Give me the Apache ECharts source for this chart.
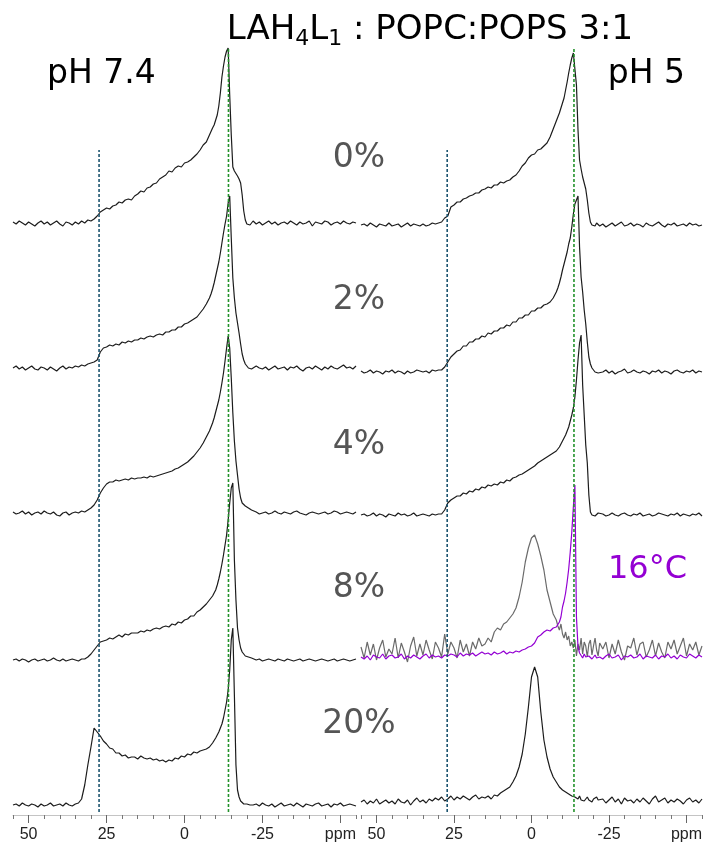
<!DOCTYPE html>
<html><head><meta charset="utf-8">
<script src="https://cdn.jsdelivr.net/npm/echarts@6/dist/echarts.min.js"></script>
<style>html,body{margin:0;padding:0;background:#fff}#c{width:703px;height:847px}</style>
</head><body><div id="c"></div>
<script>
// chemical shift grid (ppm)
const ppm = [55,54,53,52,51,50,49,48,47,46,45,44,43,42,41,40,39,38,37,36,
35,34,33,32,31,30,29,28,27,26,25,24,23,22,21,20,19,18,17,16,
15,14,13,12,11,10,9,8,7,6,5,4,3,2,1,0,-1,-2,-3,-4,-5,-6,-7,-8,
-8.5,-9,-9.5,-10,-10.5,-11,-11.5,-12,-12.5,-13,-13.5,-14,-14.5,-15,-15.5,-16,-16.5,-17,-17.5,-18,
-18.5,-19,-19.5,-20,-20.5,-21,-21.5,-22,
-23,-24,-25,-26,-27,-28,-29,-30,-31,-32,-33,-34,-35,-36,-37,-38,-39,-40,-41,-42,
-43,-44,-45,-46,-47,-48,-49,-50,-51,-52,-53,-54,-55];

// pH 7.4 spectra (intensity)
const L0 = [1,-1,2,0,-2,1,-1,-3,0,2, -1,1,-2,0,2,-1,-3,1,0,-2,
 1,-1,2,0,3,2,4,7,11,13, 15,14,17,18,21,20,23,24,23,27,
 29,32,31,35,36,39,40,44,46,48, 52,51,55,57,56,60,61,63,66,69, 73,78,81,88,
 90,95,98,103,108,117,130,146,157,166, 172,175,128,88,56,52,50,47,44,40, 28,12,3,-1,1,-2,0,2,
 -1,1,-2,0,2,-1,1,-2,0,1, -1,2,0,-2,1,-1,0,2,-3,1, 0,-1,2,1,-2,0,1,-1,2,0, -1,1,0];
const L2 = [0,2,-1,1,-2,0,2,-1,-2,1, 0,-2,1,-1,-3,0,2,-1,1,0,
 2,1,3,2,4,5,6,8,16,20, 21,23,22,24,23,26,25,27,26,28,
 28,30,29,31,32,31,33,34,33,36, 36,38,38,41,41,44,45,47,49,51, 55,59,64,70,
 74,79,85,92,99,106,115,125,135,144, 152,165,172,130,90,70,55,45,35,24, 14,8,4,2,0,1,-1,1,
 2,0,-1,1,-2,0,2,-1,0,1, -2,1,0,2,-1,-3,0,1,-1,2, 0,-2,1,-1,2,0,-1,1,3,0, 1,-1,2];
const L4 = [1,-1,0,2,-1,1,-2,0,1,-1, 2,0,-1,1,-2,-3,0,1,-2,0,
 1,0,2,1,3,5,8,13,20,25, 29,31,31,33,32,33,34,33,35,34,
 35,35,36,35,37,36,37,38,39,40, 41,42,44,45,47,49,51,54,57,61, 65,70,76,82,
 86,90,95,101,107,113,121,130,140,152, 165,177,165,135,100,72,52,38,24,15, 10,8,7,6,5,4,3,2,
 1,-1,0,1,-1,0,2,0,-1,1, 0,-1,1,2,0,-1,-2,0,1,0, -1,0,1,-1,0,2,1,-1,0,1, 0,-1,1];
const L8 = [0,1,-1,1,0,-2,0,1,-1,0, 1,-1,0,2,0,-1,1,-1,0,1,
 0,-1,1,1,3,6,10,14,18,19, 20,22,21,23,25,23,26,25,27,27,
 27,29,28,30,29,31,32,31,33,34, 33,36,35,38,37,40,41,44,44,48, 50,53,56,60,
 62,64,66,70,75,81,88,96,105,115, 125,140,157,172,177,100,60,32,20,12, 8,6,4,3,3,2,2,1,
 0,1,-1,0,1,0,-1,1,0,-1, 1,0,-1,0,1,-1,0,1,0,-1, 0,1,0,-1,0,1,-1,0,1,0, -1,0,1];
const L20 = [0,1,-1,2,0,-1,1,0,-2,1, -1,0,2,-1,0,1,-1,2,0,-1,
 1,2,6,20,40,58,77,73,69,64, 61,57,56,52,52,49,50,47,48,48,
 46,49,47,46,47,45,46,44,45,43, 45,44,47,46,49,48,51,50,53,52, 54,55,56,58,
 60,62,64,67,70,73,77,81,87,95, 103,115,135,165,177,110,40,15,8,4, 2,1,0,1,-1,0,1,0,
 1,-1,2,0,-1,1,-2,0,2,-1, 0,1,-1,2,0,-2,1,0,-1,1, 2,-1,0,1,-2,1,0,2,-1,0, 1,0,-1];

// pH 5 spectra (intensity)
const R0 = [0,1,-1,2,0,-2,1,0,-1,2, -1,0,1,-2,0,2,-1,1,0,-1,
 1,-1,0,2,1,2,3,7,9,18, 20,23,23,26,27,29,30,32,32,35,
 36,38,37,40,40,43,42,44,45,48, 50,54,59,62,67,70,71,75,76,79, 82,88,96,104,
 108,112,117,122,127,135,143,152,160,167, 172,173,140,95,65,56,48,42,36,25, 12,3,0,1,-1,2,0,-1,
 1,-2,0,2,-1,1,3,-1,0,2, -1,1,0,-2,2,0,-1,1,3,0, -2,1,0,2,-1,0,1,-1,2,0, 1,-1,0];
const R2 = [1,-1,0,2,-1,1,0,-2,1,0, 2,-1,1,0,-2,1,-1,0,2,1,
 0,1,-1,2,1,2,2,5,10,15, 18,21,22,26,26,30,30,33,33,36,
 35,39,38,41,41,44,44,47,46,50, 50,54,54,57,57,61,61,64,64,67, 68,70,74,80,
 84,89,95,102,108,114,120,128,134,145, 158,168,172,176,125,95,80,62,48,30, 15,8,4,2,0,1,-1,1,
 0,2,-1,1,-2,0,1,3,-1,0, 2,0,-1,1,0,-2,1,0,2,-1, 1,0,-2,1,2,0,-1,1,0,2, -1,1,0];
const R4 = [0,1,-1,0,2,-1,1,0,-2,1, 0,-1,2,0,1,-1,0,2,-1,0,
 1,0,-1,1,0,1,1,5,12,15, 17,19,19,22,21,24,23,26,25,28,
 27,30,29,31,30,33,32,35,34,37, 38,40,41,43,45,47,49,52,54,56, 58,60,62,64,
 66,68,71,74,77,80,84,88,94,100, 107,118,135,155,172,180,130,100,70,52, 20,3,0,1,-1,0,2,0,
 1,-1,0,2,0,-1,1,2,0,-1, 1,0,2,-1,0,1,-1,0,2,1, 0,-1,1,0,2,-1,1,0,-1,1, 0,2,-1];
const R8 = [5,-6,10,-3,8,-8,4,12,-5,3, -2,14,-6,9,0,-10,6,15,-4,8,
 -3,12,2,-7,10,4,-5,18,-2,10, 4,-6,12,0,8,-4,10,3,14,6,
 8,14,10,20,24,22,28,30,34,38, 44,55,70,90,104,114,117,108,96,82, 62,50,38,32,
 26,22,28,18,14,20,12,16,6,10, 4,12,-4,8,2,14,-2,10,6,-5, 8,12,-3,6,14,2,-4,9,
 3,10,-6,8,-2,12,0,-8,6,4, 14,-3,8,10,-5,2,12,-4,9,0, -6,10,3,12,-2,6,14,-4,8,2, 10,-3,6];
const R8_16C = [0,-2,1,-3,2,0,-1,3,-2,1, 2,-1,0,3,-2,1,-1,2,0,-2,
 1,3,-1,2,0,1,-1,2,1,3, 2,0,4,1,3,2,4,1,3,5,
 3,4,2,5,3,4,6,3,5,4, 6,5,7,8,10,11,14,20,22,25, 27,26,29,30,
 31,35,40,50,56,64,75,88,105,125, 150,172,40,10,4,2,-1,3,0,-2, 1,3,-2,0,2,-1,1,0,
 -2,1,3,-1,0,2,-3,1,0,2, -1,0,3,-2,1,0,-1,2,-2,1, 0,3,-1,1,-2,2,0,-1,3,1, -1,2,0];
const R20 = [0,2,-2,1,-1,3,-2,0,2,-1, 1,-2,3,0,-1,2,-3,1,4,0,
 2,-1,3,1,4,2,5,1,3,6, 2,5,3,6,4,2,5,7,3,5,
 4,6,3,7,6,9,11,13,15,20, 26,35,48,68,95,125,135,125,90,62, 45,33,25,20,
 19,15,16,12,14,10,12,8,10,6, 7,5,4,3,6,2,4,1,3,5, 2,4,0,3,1,5,2,0,
 3,-1,2,5,0,3,-2,4,1,2, -1,3,0,4,1,-2,3,6,0,2, 4,-1,2,0,3,1,-2,2,4,0, 2,-1,3];

const majorTicks = [50, 25, 0, -25, -50];
const minorTicks = [55,45,40,35,30,20,15,10,5,-5,-10,-15,-20,-30,-35,-40,-45,-55];
const percentLabels = ['0%', '2%', '4%', '8%', '20%'];
const leftMarkers = [27.4, -14.1];
const rightMarkers = [27.2, -13.7];

const chart = echarts.init(document.getElementById('c'), null, {renderer: 'canvas'});
const FONT = 'DejaVu Sans';

function mainAxis(g) {
  return {type:'value', gridIndex:g, min:-55, max:55, inverse:true, position:'bottom',
    axisLine:{show:true, onZero:false, lineStyle:{color:'#c4c4c4', width:1}},
    axisTick:{show:true, length:8, customValues:majorTicks, lineStyle:{color:'#666', width:1}},
    axisLabel:{show:true, customValues:majorTicks, margin:12, fontSize:16, color:'#222', fontFamily:'Liberation Sans',
      formatter: v => (v === -50 ? 'ppm' : String(v))},
    splitLine:{show:false}};
}
function minorAxis(g) {
  return {type:'value', gridIndex:g, min:-55, max:55, inverse:true, position:'bottom',
    axisLine:{show:false, onZero:false},
    axisTick:{show:true, length:4, customValues:minorTicks, lineStyle:{color:'#777', width:1}},
    axisLabel:{show:false}, splitLine:{show:false}};
}

function spec(vals, offset, xi, yi, color, z) {
  return {type:'line', xAxisIndex:xi, yAxisIndex:yi, symbol:'none', silent:true, z:z||2,
    lineStyle:{color:color||'#1c1c1c', width:1.2}, data: ppm.map((p,i)=>[p, offset + vals[i]])};
}
function dash(x, top, xi, yi, color) {
  return {type:'line', xAxisIndex:xi, yAxisIndex:yi, symbol:'none', silent:true, z:5,
    lineStyle:{color:color, width:1.6, type:[3,2]}, data:[[x, 3],[x, top]]};
}

const pctY = [158, 300, 445, 588, 724];
const graphics = [
  {type:'text', x:430, y:10, style:{
    text:'{m|LAH}{s|4}{m|L}{s|1}{m| : POPC:POPS 3:1}',
    rich:{m:{fontSize:34, fontFamily:FONT, lineHeight:40, fill:'#000'},
          s:{fontSize:22, fontFamily:FONT, lineHeight:22, verticalAlign:'bottom', fill:'#000'}},
    textAlign:'center', align:'center', textVerticalAlign:'top'}},
  {type:'text', x:47, y:74, style:{text:'pH 7.4', fontSize:33, fontFamily:FONT, fill:'#000', textAlign:'left', textVerticalAlign:'middle'}},
  {type:'text', x:685, y:74, style:{text:'pH 5', fontSize:33, fontFamily:FONT, fill:'#000', textAlign:'right', textVerticalAlign:'middle'}},
  {type:'text', x:608, y:570, style:{text:'16°C', fontSize:32, fontFamily:FONT, fill:'#9400d3', textAlign:'left', textVerticalAlign:'middle'}}
];
percentLabels.forEach((t,i)=>graphics.push({type:'text', x:359, y:pctY[i],
  style:{text:t, fontSize:33, fontFamily:FONT, fill:'#555', textAlign:'center', textVerticalAlign:'middle'}}));

chart.setOption({
  animation:false,
  backgroundColor:'#fff',
  grid:[{left:13, width:343, top:40, height:775, containLabel:false, outerBoundsMode:'none'},
        {left:361, width:341, top:40, height:775, containLabel:false, outerBoundsMode:'none'}],
  xAxis:[mainAxis(0), minorAxis(0), mainAxis(1), minorAxis(1)],
  yAxis:[{type:'value', gridIndex:0, min:0, max:775, show:false},
         {type:'value', gridIndex:1, min:0, max:775, show:false}],
  series:[
    spec(L0, 592, 0, 0), spec(L2, 447, 0, 0), spec(L4, 302, 0, 0), spec(L8, 155, 0, 0), spec(L20, 10, 0, 0),
    spec(R0, 590, 2, 1), spec(R2, 443, 2, 1), spec(R4, 300, 2, 1),
    spec(R8, 163, 2, 1, '#6a6a6a', 2), spec(R8_16C, 158, 2, 1, '#9400d3', 3), spec(R20, 13, 2, 1),
    dash(leftMarkers[0], 665, 0, 0, '#1d5570'), dash(leftMarkers[1], 768, 0, 0, '#23922a'),
    dash(rightMarkers[0], 665, 2, 1, '#1d5570'), dash(rightMarkers[1], 768, 2, 1, '#23922a')
  ],
  graphic: graphics
});
</script></body></html>
